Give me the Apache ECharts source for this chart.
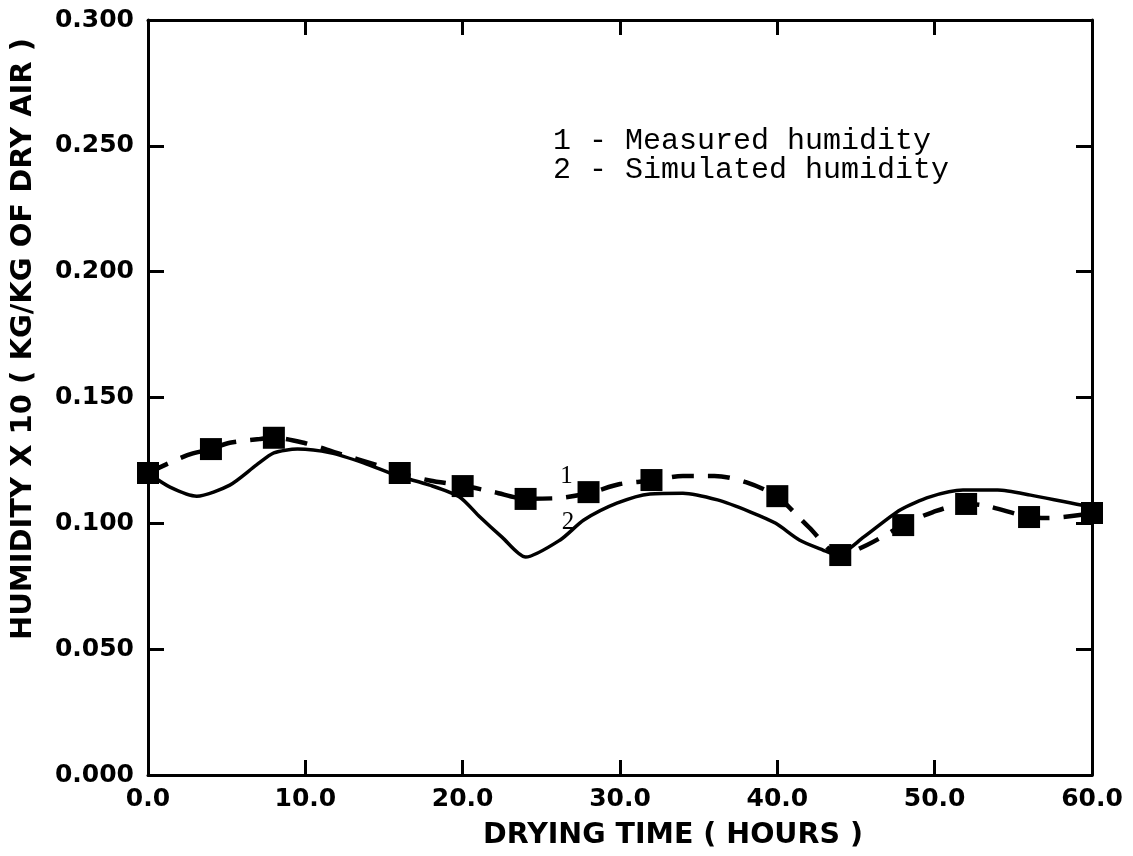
<!DOCTYPE html>
<html>
<head>
<meta charset="utf-8">
<script src="https://cdn.jsdelivr.net/npm/echarts@6/dist/echarts.min.js"></script>
<style>html,body{margin:0;padding:0;background:#fff;}#c{width:1133px;height:856px;}</style>
</head>
<body>
<div id="c"></div>
<script>
// Measured humidity (squares)
var measuredHours = [0, 4, 8, 16, 20, 24, 28, 32, 40, 44, 48, 52, 56, 60];
var measuredValues = [0.120, 0.1295, 0.134, 0.120, 0.1148, 0.1097, 0.1124, 0.1172, 0.1108, 0.0874, 0.0993, 0.1077, 0.1025, 0.1041];

// Dashed curve through measured data (read along the dashes)
var dashedHours = [0, 2.5, 4, 5.2, 7.1, 8, 9.9, 12, 14.6, 16, 17.9, 20, 22, 24, 26, 28, 30, 32, 34, 36, 38, 40, 42, 44, 45.7, 48, 49.9, 52, 53.3, 56, 57.2, 60];
var dashedValues = [0.120, 0.1271, 0.1295, 0.132, 0.1335, 0.134, 0.132, 0.128, 0.123, 0.120, 0.117, 0.115, 0.1124, 0.1098, 0.110, 0.112, 0.1156, 0.117, 0.1188, 0.1188, 0.1164, 0.1105, 0.0985, 0.0874, 0.0914, 0.0993, 0.1045, 0.1077, 0.1069, 0.1025, 0.1021, 0.104];

// Simulated humidity (solid curve)
var simHours = [0, 1.4, 3.1, 5.2, 6.9, 8, 9.5, 11.6, 13.7, 15.8, 17.9, 19.8, 21.1, 22.5, 24, 26.2, 27.7, 29.8, 31.9, 34, 36.2, 38.3, 39.9, 41.4, 42.9, 43.8, 45.5, 47.8, 49.7, 51.8, 54, 56.1, 59.3, 60];
var simValues = [0.120, 0.1144, 0.1108, 0.1152, 0.1232, 0.128, 0.1295, 0.128, 0.124, 0.119, 0.1152, 0.1105, 0.1025, 0.0945, 0.0866, 0.0934, 0.1013, 0.108, 0.1117, 0.112, 0.1093, 0.1045, 0.100, 0.0934, 0.0894, 0.0874, 0.0946, 0.1053, 0.1105, 0.1132, 0.1132, 0.1112, 0.1073, 0.107];

// Axis settings
var xMin = 0, xMax = 60, xStep = 10;
var yMin = 0, yMax = 0.3, yStep = 0.05;

var legendLines = ['1 - Measured humidity', '2 - Simulated humidity'];
var xTitle = 'DRYING TIME ( HOURS )';
var yTitle = 'HUMIDITY X 10 ( KG/KG OF DRY AIR )';

function zip(a, b) { return a.map(function (v, i) { return [v, b[i]]; }); }

var chart = echarts.init(document.getElementById('c'), null, {renderer: 'canvas'});
var axisFont = 'DejaVu Sans';
var lineCol = '#000';

var baseX = {
  type: 'value', min: xMin, max: xMax, interval: xStep,
  axisLine: {show: true, onZero: false, lineStyle: {color: lineCol, width: 3}},
  axisTick: {show: true, inside: true, length: 15, lineStyle: {color: lineCol, width: 3}},
  splitLine: {show: false}
};
var baseY = {
  type: 'value', min: yMin, max: yMax, interval: yStep,
  axisLine: {show: true, onZero: false, lineStyle: {color: lineCol, width: 3}},
  axisTick: {show: true, inside: true, length: 16, lineStyle: {color: lineCol, width: 3}},
  splitLine: {show: false}
};

var option = {
  backgroundColor: '#fff',
  animation: false,
  grid: {left: 148, right: 41, top: 20, bottom: 81, containLabel: false},
  xAxis: [
    Object.assign({}, baseX, {
      position: 'bottom',
      axisLabel: {show: true, margin: 12, color: '#000', fontFamily: axisFont, fontWeight: 'bold', fontSize: 25,
        formatter: function (v) { return v.toFixed(1); }}
    }),
    Object.assign({}, baseX, {position: 'top', axisLabel: {show: false}})
  ],
  yAxis: [
    Object.assign({}, baseY, {
      position: 'left',
      axisLabel: {show: true, margin: 14, color: '#000', fontFamily: axisFont, fontWeight: 'bold', fontSize: 25,
        formatter: function (v) { return v.toFixed(3); }}
    }),
    Object.assign({}, baseY, {position: 'right', axisLabel: {show: false}})
  ],
  series: [
    {
      name: 'Simulated', type: 'line', xAxisIndex: 0, yAxisIndex: 0,
      data: zip(simHours, simValues), smooth: 0.25, showSymbol: false, symbol: 'none',
      lineStyle: {color: '#000', width: 3.5},
      markPoint: {
        symbol: 'circle', symbolSize: 1,
        itemStyle: {color: 'rgba(0,0,0,0)'},
        label: {show: true, position: 'inside', color: '#000', fontFamily: 'Liberation Serif', fontSize: 25,
          formatter: function (p) { return p.name; }},
        data: [
          {name: '1', coord: [26.6, 0.1185]},
          {name: '2', coord: [26.7, 0.1005]}
        ]
      },
      z: 2
    },
    {
      name: 'MeasuredCurve', type: 'line', xAxisIndex: 0, yAxisIndex: 0,
      data: zip(dashedHours, dashedValues), smooth: 0.3, showSymbol: false, symbol: 'none',
      lineStyle: {color: '#000', width: 4.5, type: [22, 14]},
      z: 3
    },
    {
      name: 'Measured', type: 'scatter', xAxisIndex: 0, yAxisIndex: 0,
      data: zip(measuredHours, measuredValues), symbol: 'rect', symbolSize: 22,
      itemStyle: {color: '#000', opacity: 1},
      z: 4
    }
  ],
  graphic: [
    {type: 'text', left: 553, top: 126, style: {text: legendLines[0], font: '30px "Liberation Mono"', fill: '#000'}},
    {type: 'text', left: 553, top: 155, style: {text: legendLines[1], font: '30px "Liberation Mono"', fill: '#000'}},
    {type: 'text', x: 673, y: 836, style: {text: xTitle, font: 'bold 28.5px "DejaVu Sans"', fill: '#000', align: 'center', verticalAlign: 'middle'}},
    {type: 'text', x: 23, y: 339, rotation: Math.PI / 2, style: {text: yTitle, font: 'bold 29px "DejaVu Sans"', fill: '#000', align: 'center', verticalAlign: 'middle'}}
  ]
};
chart.setOption(option);
</script>
</body>
</html>
